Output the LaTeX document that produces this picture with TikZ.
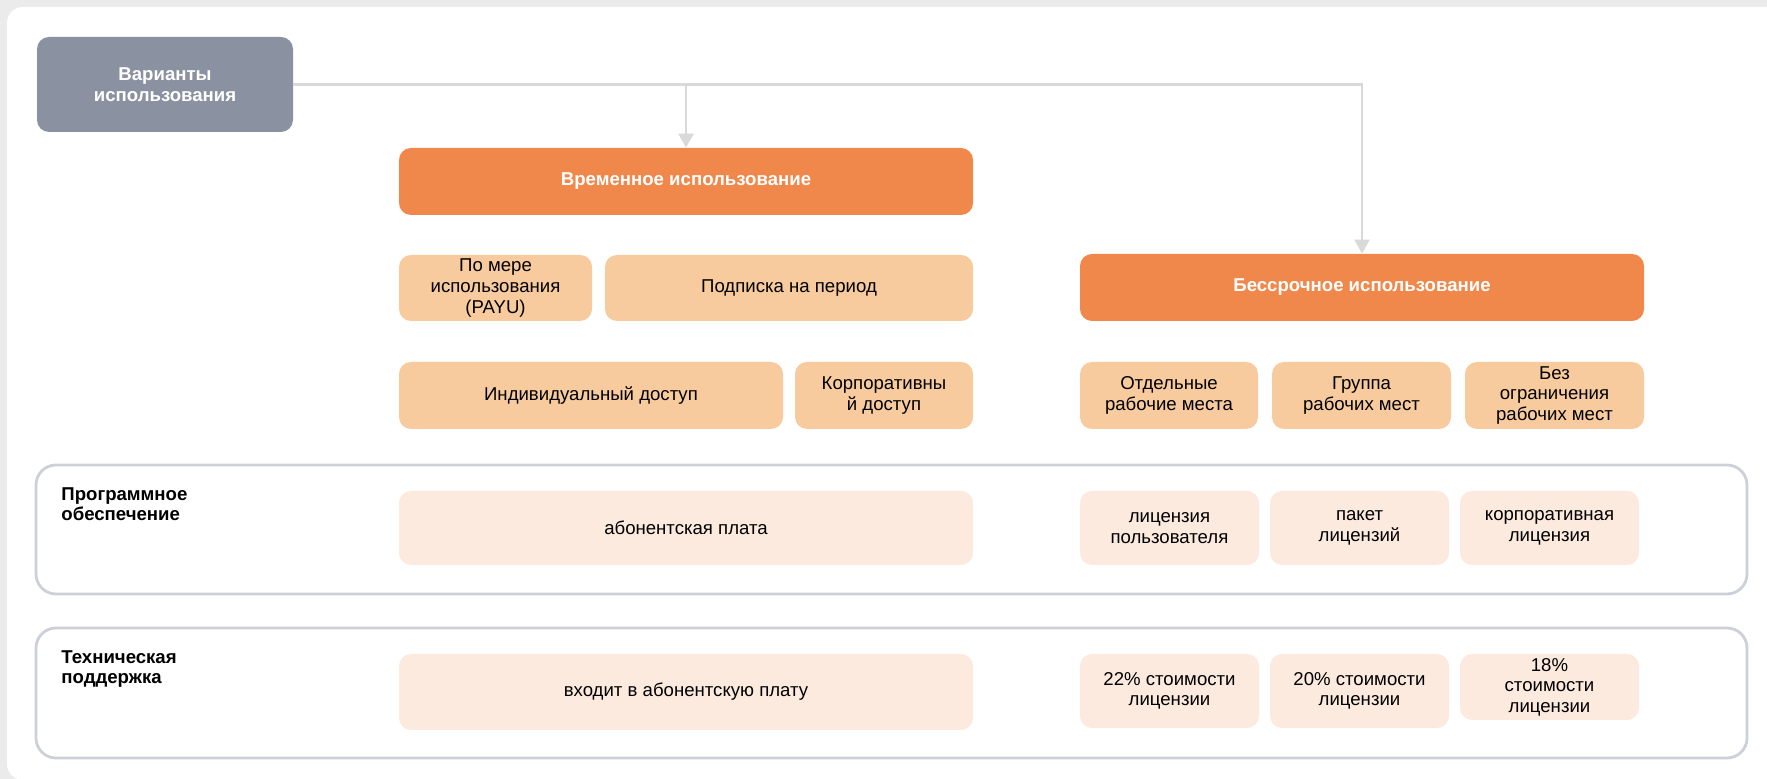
\documentclass[tikz,border=0pt]{standalone}
\usepackage{fontspec}
\setmainfont{Liberation Sans}
\usetikzlibrary{arrows.meta}

\definecolor{fond}{HTML}{EBEBEB}
\definecolor{gris}{HTML}{8A92A2}
\definecolor{orfonce}{HTML}{F1884B}
\definecolor{orclair}{HTML}{F7CB9D}
\definecolor{orpale}{HTML}{FBEADD}
\definecolor{bord}{HTML}{CDD0D8}
\definecolor{fleche}{HTML}{D9D9D9}

\tikzset{
  boite/.style={rounded corners=6pt, inner sep=1pt, align=center,
    font=\fontsize{9.3}{10.3}\selectfont},
  depart/.style={boite, fill=gris, text=white,
    font=\bfseries\fontsize{9.3}{10.3}\selectfont},
  mode/.style={boite, fill=orfonce, text=white,
    font=\bfseries\fontsize{9.3}{10.3}\selectfont},
  option/.style={boite, fill=orclair},
  cout/.style={boite, fill=orpale},
  ligne/.style={draw=bord, line width=1.4pt, rounded corners=10pt},
  rubrique/.style={anchor=north west, align=left, inner sep=0pt,
    font=\bfseries\fontsize{9.3}{10.3}\selectfont},
  lien/.style={draw=fleche, line width=1.3pt,
    -{Triangle[width=7.5pt,length=7pt]}},
}

\begin{document}
\begin{tikzpicture}[x=0.5pt,y=-0.5pt]

% Fond
\useasboundingbox (0,0) rectangle (1767,779);
\fill[fond] (0,0) rectangle (1767,779);
\fill[white, rounded corners=8pt] (7,7) rectangle (1800,780);

% Cadres des lignes
\draw[ligne] (36,465) rectangle (1747,594);
\draw[ligne] (36,628) rectangle (1747,758);

% Boite de départ
\node[depart, minimum width=128pt, minimum height=47.5pt] (var) at (165,84.5)
  {Варианты\\использования};

% Modes
\node[mode, minimum width=287pt, minimum height=33.5pt] (temp) at (686,181.5)
  {Временное использование};
\node[mode, minimum width=282pt, minimum height=33.5pt] (perm) at (1362,287.5)
  {Бессрочное использование};

% Flèches
\draw[lien] (var.east) -| (perm.north);
\draw[lien] (var.east -| temp.north) -- (temp.north);

% Options temporaires
\node[option, minimum width=96.5pt, minimum height=33pt] (payu) at (495.5,288)
  {По мере\\использования\\(PAYU)};
\node[option, minimum width=184pt, minimum height=33pt] (abon) at (789,288)
  {Подписка на период};
\node[option, minimum width=192pt, minimum height=33.5pt] (indiv) at (591,395.5)
  {Индивидуальный доступ};
\node[option, minimum width=89pt, minimum height=33.5pt] (corp) at (884,395.5)
  {Корпоративны\\й доступ};

% Options bessrochnye
\node[option, minimum width=89pt, minimum height=33.5pt] (seul) at (1169,395.5)
  {Отдельные\\рабочие места};
\node[option, minimum width=89.5pt, minimum height=33.5pt] (grp) at (1361.5,395.5)
  {Группа\\рабочих мест};
\node[option, minimum width=89.5pt, minimum height=33.5pt] (illim) at (1554.5,395.5)
  {Без\\ограничения\\рабочих мест};

% Ligne 1
\node[rubrique] (po) at (61,487) {Программное\\обеспечение};
\node[cout, minimum width=287pt, minimum height=37pt] (frais) at (686,528)
  {абонентская плата};
\node[cout, minimum width=89.5pt, minimum height=37pt] (lic1) at (1169.5,528)
  {лицензия\\пользователя};
\node[cout, minimum width=89.5pt, minimum height=37pt] (lic2) at (1359.5,528)
  {пакет\\лицензий};
\node[cout, minimum width=89.5pt, minimum height=37pt] (lic3) at (1549.5,528)
  {корпоративная\\лицензия};

% Ligne 2
\node[rubrique] (tech) at (61,650) {Техническая\\поддержка};
\node[cout, minimum width=287pt, minimum height=38pt] (incl) at (686,692)
  {входит в абонентскую плату};
\node[cout, minimum width=89.5pt, minimum height=37pt] (sup1) at (1169.5,691)
  {22\% стоимости\\лицензии};
\node[cout, minimum width=89.5pt, minimum height=37pt] (sup2) at (1359.5,691)
  {20\% стоимости\\лицензии};
\node[cout, minimum width=89.5pt, minimum height=33pt] (sup3) at (1549.5,687)
  {18\%\\стоимости\\лицензии};

\end{tikzpicture}
\end{document}
